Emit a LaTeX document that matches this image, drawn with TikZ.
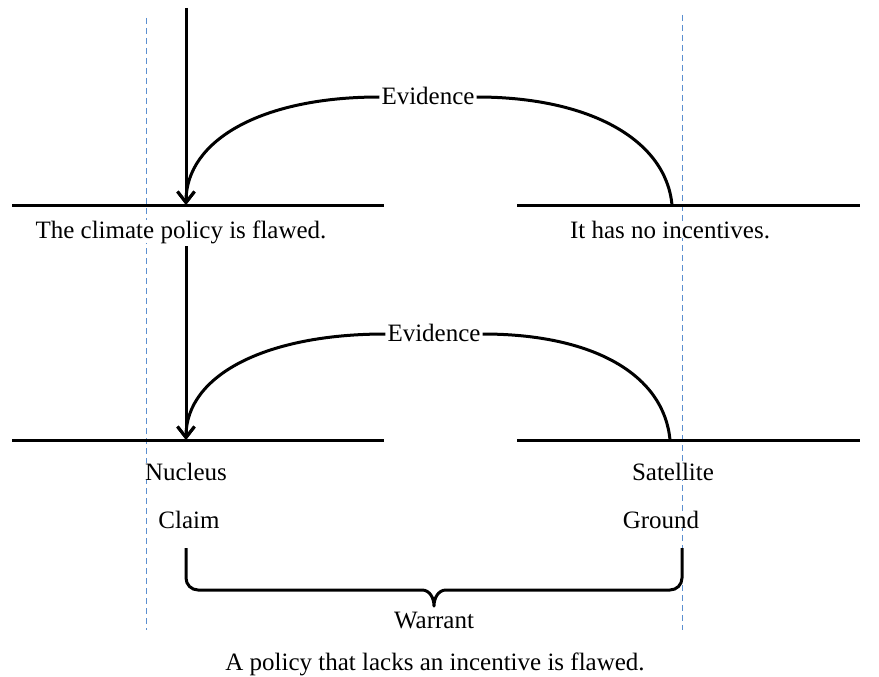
\documentclass[tikz,border=0pt]{standalone}
\usepackage{fontspec}
\setmainfont{Liberation Serif}
\usetikzlibrary{arrows.meta}
\definecolor{guideblue}{RGB}{91,143,208}
\begin{document}
\begin{tikzpicture}[x=1pt,y=-1pt,
  txt/.style={font=\fontsize{25}{30}\selectfont, inner sep=0pt, anchor=base, fill=white},
  lbl/.style={txt, inner xsep=2pt, inner ysep=3pt},
  hline/.style={line width=3pt},
  conn/.style={line width=3pt},
  arr/.style={line width=3pt, -{Straight Barb[length=11pt,width=17pt]}},
  guide/.style={draw=guideblue, line width=1pt, dash pattern=on 6pt off 4pt}
]
\useasboundingbox (0,0) rectangle (879,677);

% guides
\coordinate (gl1) at (146,18); \coordinate (gl2) at (146,630);
\coordinate (gr1) at (682,15); \coordinate (gr2) at (682,630);
\draw[guide] (gl1) -- (gl2);
\draw[guide] (gr1) -- (gr2);

% upper level
\coordinate (l1a) at (12,205); \coordinate (l1b) at (384,205);
\coordinate (r1a) at (517,205); \coordinate (r1b) at (860,205);
\draw[hline] (l1a) -- (l1b);
\draw[hline] (r1a) -- (r1b);
\node[txt] (claim1) at (181,238) {The climate policy is flawed.};
\node[txt] (ground1) at (670,238) {It has no incentives.};
\coordinate (top) at (186,8);
\coordinate (n1) at (186,205);
\coordinate (s1) at (672,205);
\draw[arr] (top) -- (n1);
\node[lbl] (ev1) at (428,105) {Evidence};
\draw[conn] (s1) .. controls (666,140) and (590,97) .. (ev1.east |- 0,97);
\draw[arr] (ev1.west |- 0,97) .. controls (262,97) and (186,140) .. (n1);

% lower level
\coordinate (l2a) at (12,440); \coordinate (l2b) at (384,440);
\coordinate (r2a) at (517,440); \coordinate (r2b) at (860,440);
\draw[hline] (l2a) -- (l2b);
\draw[hline] (r2a) -- (r2b);
\coordinate (a2) at (186,246);
\coordinate (n2) at (186,440);
\coordinate (s2) at (670,440);
\draw[arr] (a2) -- (n2);
\node[lbl] (ev2) at (434,341) {Evidence};
\draw[conn] (s2) .. controls (664,375) and (594,334) .. (ev2.east |- 0,334);
\draw[arr] (ev2.west |- 0,334) .. controls (266,334) and (186,375) .. (n2);

\node[txt] (nuc) at (186,480) {Nucleus};
\node[txt] (sat) at (673,480) {Satellite};
\node[txt] (clm) at (189,528) {Claim};
\node[txt] (grd) at (661,528) {Ground};

% brace
\coordinate (bl) at (186,548);
\coordinate (br) at (682,548);
\coordinate (bt) at (434,606);
\draw[line width=3pt, line join=round]
  (bl) -- (186,578) to[out=-90,in=180] (198,590) -- (422,590)
  to[out=0,in=90] (bt) to[out=90,in=180] (446,590) -- (670,590)
  to[out=0,in=-90] (682,578) -- (br);

\node[txt] (war) at (434,628) {Warrant};
\node[txt] (wtxt) at (435,670) {A policy that lacks an incentive is flawed.};
\end{tikzpicture}
\end{document}
